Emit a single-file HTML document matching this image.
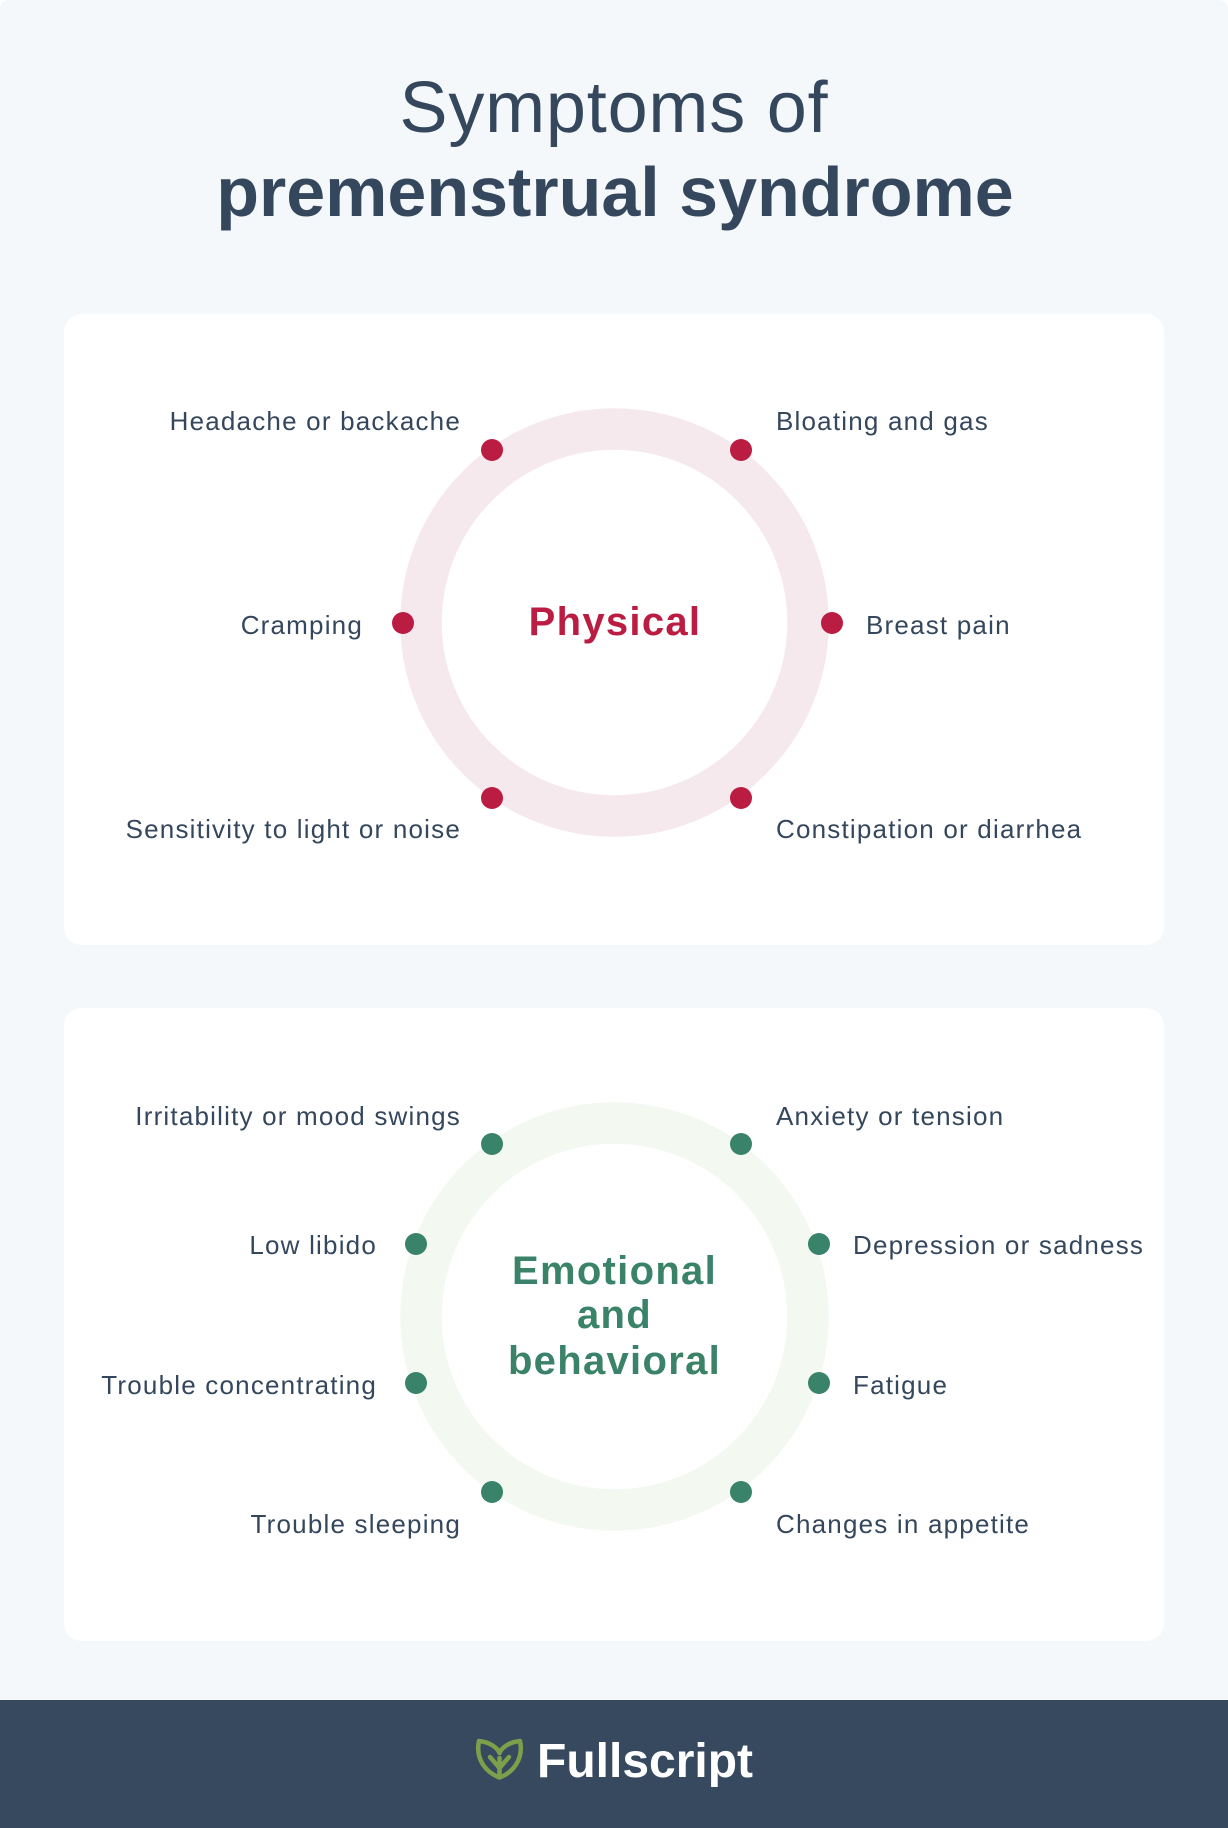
<!DOCTYPE html>
<html>
<head>
<meta charset="utf-8">
<style>
  html, body { margin:0; padding:0; background:#ffffff; }
  body { width:1228px; height:1828px; overflow:hidden; }
  svg { display:block; }
  .lbl { font-family:"Liberation Sans", Arial, sans-serif; font-size:26px; fill:#34475c; letter-spacing:1.2px; }
  .big { font-family:"Liberation Sans", Arial, sans-serif; font-weight:bold; font-size:40px; letter-spacing:1.3px; }
</style>
</head>
<body>
<svg width="1228" height="1828" viewBox="0 0 1228 1828" xmlns="http://www.w3.org/2000/svg">
  <!-- page background -->
  <rect x="0" y="0" width="1228" height="1828" fill="#ffffff"/>
  <path d="M0,10 Q0,0 10,0 L1218,0 Q1228,0 1228,10 L1228,1828 L0,1828 Z" fill="#f5f8fb"/>

  <!-- Title -->
  <text x="614" y="132" text-anchor="middle" font-family="Liberation Sans, Arial, sans-serif" font-size="72" fill="#34475c" letter-spacing="0.8">Symptoms of</text>
  <text x="615" y="216" text-anchor="middle" font-family="Liberation Sans, Arial, sans-serif" font-size="70" font-weight="bold" fill="#34475c">premenstrual syndrome</text>

  <!-- Card 1 -->
  <rect x="64" y="314" width="1100" height="631" rx="18" ry="18" fill="#ffffff"/>
  <circle cx="614.5" cy="622.5" r="193.5" fill="none" stroke="#f5e9ee" stroke-width="41.5"/>
  <text class="big" x="615" y="635" text-anchor="middle" fill="#bb1d42">Physical</text>
  <g fill="#bb1d42">
    <circle cx="492" cy="450" r="11"/>
    <circle cx="741" cy="450" r="11"/>
    <circle cx="403" cy="623" r="11"/>
    <circle cx="832" cy="623" r="11"/>
    <circle cx="492" cy="798" r="11"/>
    <circle cx="741" cy="798" r="11"/>
  </g>
  <text class="lbl" x="461" y="430" text-anchor="end">Headache or backache</text>
  <text class="lbl" x="776" y="430">Bloating and gas</text>
  <text class="lbl" x="363" y="634" text-anchor="end">Cramping</text>
  <text class="lbl" x="866" y="634">Breast pain</text>
  <text class="lbl" x="461" y="838" text-anchor="end">Sensitivity to light or noise</text>
  <text class="lbl" x="776" y="838">Constipation or diarrhea</text>

  <!-- Card 2 -->
  <rect x="64" y="1008" width="1100" height="633" rx="18" ry="18" fill="#ffffff"/>
  <circle cx="614.5" cy="1316.5" r="193.5" fill="none" stroke="#f3f8f1" stroke-width="41.5"/>
  <g class="big" fill="#3a8368" text-anchor="middle">
    <text class="big" x="614.5" y="1284" text-anchor="middle" fill="#3a8368">Emotional</text>
    <text class="big" x="614.5" y="1328" text-anchor="middle" fill="#3a8368">and</text>
    <text class="big" x="614.5" y="1374" text-anchor="middle" fill="#3a8368">behavioral</text>
  </g>
  <g fill="#38836a">
    <circle cx="492" cy="1144" r="11"/>
    <circle cx="741" cy="1144" r="11"/>
    <circle cx="416" cy="1244" r="11"/>
    <circle cx="819" cy="1244" r="11"/>
    <circle cx="416" cy="1383" r="11"/>
    <circle cx="819" cy="1383" r="11"/>
    <circle cx="492" cy="1492" r="11"/>
    <circle cx="741" cy="1492" r="11"/>
  </g>
  <text class="lbl" x="461" y="1125" text-anchor="end">Irritability or mood swings</text>
  <text class="lbl" x="776" y="1125">Anxiety or tension</text>
  <text class="lbl" x="377" y="1254" text-anchor="end">Low libido</text>
  <text class="lbl" x="853" y="1254">Depression or sadness</text>
  <text class="lbl" x="377" y="1394" text-anchor="end">Trouble concentrating</text>
  <text class="lbl" x="853" y="1394">Fatigue</text>
  <text class="lbl" x="461" y="1533" text-anchor="end">Trouble sleeping</text>
  <text class="lbl" x="776" y="1533">Changes in appetite</text>

  <!-- Footer -->
  <rect x="0" y="1700" width="1228" height="128" fill="#36495e"/>
  <g fill="none" stroke="#7aa04b" stroke-width="4.5" stroke-linecap="round" stroke-linejoin="round">
    <path d="M479,1741 C475,1760 487,1773 499.5,1777.5 C512,1773 524,1760 520,1741 C510,1742 502,1747 499.5,1753 C497,1747 489,1742 479,1741 Z"/>
    <path d="M499.5,1776 L499.5,1758"/>
    <path d="M499.5,1768 L490,1757"/>
    <path d="M499.5,1768 L509,1757"/>
  </g>
  <text x="537" y="1777" font-family="Liberation Sans, Arial, sans-serif" font-size="48" font-weight="bold" fill="#ffffff">Fullscript</text>
</svg>
</body>
</html>
